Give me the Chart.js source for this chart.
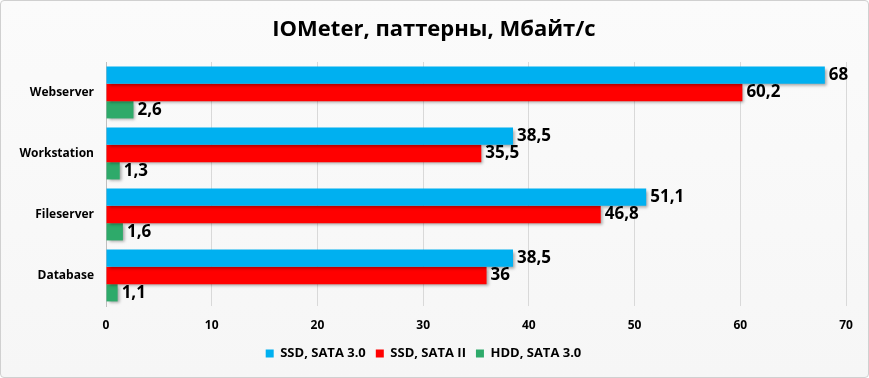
<!DOCTYPE html>
<html>
<head>
<meta charset="utf-8">
<script src="https://cdn.jsdelivr.net/npm/chart.js@4"></script>
<style>
  html, body { margin: 0; padding: 0; background: #fff; }
  #wrap {
    width: 869px; height: 378px; box-sizing: border-box;
    border: 1px solid #d0d0d0; border-radius: 4px;
    background: linear-gradient(#fbfbfb, #f6f6f6);
    position: relative;
  }
  canvas { position: absolute; left: 0; top: 0; }
</style>
</head>
<body>
<div id="wrap"><canvas id="chart" width="867" height="376"></canvas></div>
<script>
const categories = ["Webserver", "Workstation", "Fileserver", "Database"];
const seriesNames = ["SSD, SATA 3.0", "SSD, SATA II", "HDD, SATA 3.0"];
const ssdSata3 = [68, 38.5, 51.1, 38.5];
const ssdSata2 = [60.2, 35.5, 46.8, 36];
const hddSata3 = [2.6, 1.3, 1.6, 1.1];
const xTicks = [0, 10, 20, 30, 40, 50, 60, 70];
const colors = ["#00B0F0", "#FF0000", "#2EAA6A"];
const FONT = "'Open Sans', 'Noto Sans', sans-serif";

// title drawn by hand so the plot top can be pinned
const titlePlugin = {
  id: "titleText",
  afterDraw(chart) {
    const ctx = chart.ctx;
    ctx.save();
    ctx.font = "bold 22px " + FONT;
    ctx.fillStyle = "#000";
    ctx.textAlign = "center";
    ctx.textBaseline = "middle";
    ctx.fillText("IOMeter, паттерны, Мбайт/с", 433, 29);
    ctx.restore();
  }
};

// value labels at the bar ends
const valueLabels = {
  id: "valueLabels",
  afterDatasetsDraw(chart) {
    const ctx = chart.ctx;
    ctx.save();
    ctx.font = "bold 17px " + FONT;
    ctx.fillStyle = "#000";
    ctx.textBaseline = "middle";
    chart.data.datasets.forEach((ds, i) => {
      chart.getDatasetMeta(i).data.forEach((bar, j) => {
        const txt = String(ds.data[j]).replace(".", ",");
        ctx.fillText(txt, bar.x + 4, bar.y);
      });
    });
    ctx.restore();
  }
};

// soft drop shadow under bars
const barShadow = {
  id: "barShadow",
  beforeDatasetsDraw(chart) {
    const ctx = chart.ctx;
    ctx.save();
    ctx.shadowColor = "rgba(0,0,0,0.35)";
    ctx.shadowOffsetX = 2;
    ctx.shadowOffsetY = 2;
    ctx.shadowBlur = 3;
  },
  afterDatasetsDraw(chart) {
    chart.ctx.restore();
  }
};

new Chart(document.getElementById("chart"), {
  type: "bar",
  data: {
    labels: categories,
    datasets: [ssdSata3, ssdSata2, hddSata3].map((d, i) => ({
      label: seriesNames[i],
      data: d,
      backgroundColor: colors[i],
      borderWidth: 0,
      categoryPercentage: 0.85,
      barPercentage: 1.0
    }))
  },
  options: {
    indexAxis: "y",
    responsive: false,
    animation: false,
    layout: { padding: { top: 61, right: 22, left: 0, bottom: 7 } },
    plugins: {
      title: { display: false },
      tooltip: { enabled: false },
      legend: {
        position: "bottom",
        labels: {
          boxWidth: 8, boxHeight: 8, padding: 10,
          color: "#000",
          font: { family: FONT, size: 13, weight: "bold" }
        }
      }
    },
    scales: {
      x: {
        min: 0, max: 70,
        afterBuildTicks(axis) { axis.ticks = xTicks.map(v => ({ value: v })); },
        afterFit(axis) { axis.height = 31; },
        grid: { color: "#d9d9d9", drawTicks: false },
        border: { display: false },
        ticks: { padding: 12, color: "#000", font: { family: FONT, size: 12, weight: "bold" } }
      },
      y: {
        afterFit(axis) { axis.width = 105; },
        grid: { display: false, drawTicks: false },
        border: { color: "#bfbfbf" },
        ticks: { padding: 12, color: "#000", font: { family: FONT, size: 12, weight: "bold" } }
      }
    }
  },
  plugins: [barShadow, valueLabels, titlePlugin]
});
</script>
</body>
</html>
